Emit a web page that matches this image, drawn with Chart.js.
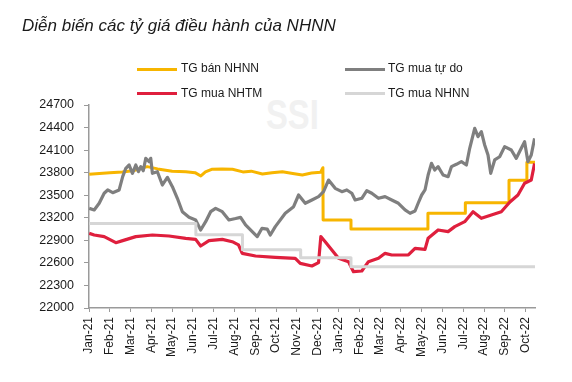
<!DOCTYPE html>
<html>
<head>
<meta charset="utf-8">
<script src="https://cdn.jsdelivr.net/npm/chart.js@4.4.0/dist/chart.umd.min.js"></script>
<style>
  html, body { margin: 0; padding: 0; background: #ffffff; }
  #wrap { position: relative; width: 572px; height: 382px; overflow: hidden; background: #fff; }
  #c { position: absolute; left: 0; top: 0; z-index: 2; }
  .title { position: absolute; left: 22px; top: 16px; font-family: "Liberation Sans Narrow", "Liberation Sans", Arial, sans-serif; font-style: italic; font-size: 17px; line-height: 20px; color: #1a1a1a; white-space: nowrap; z-index: 3; }
  .wm { position: absolute; left: 266px; top: 92px; font-family: "Liberation Sans", Arial, sans-serif; font-weight: bold; font-size: 42px; line-height: 46px; color: #f1f1f1; transform: scaleX(0.78); transform-origin: left top; z-index: 1; }
  .lg { position: absolute; font-family: "Liberation Sans", Arial, sans-serif; font-size: 12px; line-height: 14px; color: #1a1a1a; white-space: nowrap; z-index: 3; }
  .ln { position: absolute; height: 3px; width: 40px; z-index: 3; }
</style>
</head>
<body>
<div id="wrap">
  <div class="title">Diễn biến các tỷ giá điều hành của NHNN</div>
  <div class="wm">SSI</div>
  <div id="legend"></div>
  <canvas id="c" width="572" height="382"></canvas>
</div>
<script>
// ---- Data (x = months since Jan-2021) ----
const monthLabels = ["Jan-21","Feb-21","Mar-21","Apr-21","May-21","Jun-21","Jul-21","Aug-21","Sep-21","Oct-21","Nov-21","Dec-21",
                     "Jan-22","Feb-22","Mar-22","Apr-22","May-22","Jun-22","Jul-22","Aug-22","Sep-22","Oct-22"];

const seriesNames = ["TG bán NHNN", "TG mua tự do", "TG mua NHTM", "TG mua NHNN"];

// TG bán NHNN (yellow)
const sellX = [0.01,0.5,1.0,1.6,2.2,2.8,3.3,4.0,4.66,5.1,5.38,5.6,5.9,6.4,6.9,7.4,7.8,8.34,8.8,9.3,9.8,10.26,10.7,11.14,11.25,11.26,12.6,12.6,16.3,16.3,18.1,18.1,20.2,20.2,21.06,21.06,21.45];
const sellY = [23778,23790,23800,23810,23830,23880,23850,23820,23813,23800,23756,23810,23845,23850,23845,23810,23820,23782,23800,23813,23790,23769,23795,23805,23866,23170,23170,23050,23050,23260,23260,23400,23400,23700,23700,23940,23940];

// TG mua tự do (dark gray)
const freeX = [0.01,0.25,0.49,0.73,0.90,1.14,1.45,1.62,1.77,1.93,2.09,2.25,2.38,2.49,2.61,2.73,2.89,2.97,3.05,3.29,3.53,3.77,4.01,4.25,4.49,4.81,5.13,5.37,5.61,5.85,6.09,6.41,6.73,7.05,7.29,7.53,7.85,8.09,8.32,8.57,8.72,8.96,9.44,9.84,10.08,10.40,10.72,11.04,11.28,11.52,11.84,12.16,12.40,12.64,12.80,13.12,13.36,13.60,13.92,14.24,14.56,14.88,15.20,15.44,15.68,15.83,16.00,16.16,16.31,16.47,16.63,16.79,17.03,17.27,17.43,17.67,17.91,18.15,18.31,18.55,18.71,18.87,19.03,19.19,19.32,19.51,19.75,19.99,20.31,20.55,20.79,20.95,21.11,21.27,21.43];
const freeY = [23326,23304,23393,23526,23570,23534,23570,23747,23858,23902,23791,23902,23813,23880,23826,23991,23946,23991,23791,23813,23636,23738,23614,23459,23281,23206,23171,23038,23148,23281,23326,23281,23171,23190,23206,23104,23015,22949,23060,23050,22971,23082,23260,23348,23503,23393,23437,23481,23547,23702,23592,23547,23570,23526,23437,23459,23560,23526,23459,23481,23437,23393,23304,23260,23290,23393,23503,23570,23769,23924,23836,23880,23769,23747,23880,23911,23946,23902,24124,24390,24279,24345,24168,24035,23791,23969,24012,24146,24101,23991,24124,24212,23946,24035,24257];

// TG mua NHTM (red)
const bankX = [0.01,0.25,0.73,1.29,1.62,2.25,3.05,3.85,4.65,5.13,5.37,5.77,6.41,6.89,7.19,7.37,8.01,8.96,9.92,10.16,10.72,11.04,11.15,11.36,11.68,12.00,12.48,12.72,13.12,13.44,13.92,14.24,14.56,14.88,15.36,15.68,16.16,16.31,16.79,17.27,17.59,18.07,18.47,18.87,19.35,19.83,20.23,20.63,20.95,21.27,21.43];
const bankY = [22993,22971,22949,22869,22896,22949,22971,22958,22927,22913,22825,22896,22913,22882,22840,22727,22692,22674,22661,22594,22559,22603,22949,22882,22772,22661,22616,22483,22492,22616,22661,22727,22705,22705,22705,22794,22780,22927,23038,23016,23082,23148,23281,23193,23237,23281,23406,23503,23659,23702,23924];

// TG mua NHNN (light gray)
const sbvBuyX = [0.01,5.14,5.14,7.38,7.38,10.18,10.18,12.6,12.6,21.45];
const sbvBuyY = [23125,23125,22975,22975,22775,22775,22670,22670,22550,22550];

const yTicks = [22000,22300,22600,22900,23200,23500,23800,24100,24400,24700];

const colors = ["#F7B500", "#7F7F7F", "#DF1F3D", "#D6D6D6"];

function pts(xs, ys) { return xs.map((x, i) => ({ x: x, y: ys[i] })); }

// ---- Legend (HTML) ----
const legendPos = [
  { lx: 137, tx: 181, ly: 67.5, ty: 61 },
  { lx: 345, tx: 388, ly: 67.5, ty: 61 },
  { lx: 137, tx: 181, ly: 91.5, ty: 86 },
  { lx: 345, tx: 388, ly: 91.5, ty: 86 }
];
const lg = document.getElementById('legend');
seriesNames.forEach((n, i) => {
  const p = legendPos[i];
  const l = document.createElement('div');
  l.className = 'ln';
  l.style.left = p.lx + 'px'; l.style.top = p.ly + 'px'; l.style.background = colors[i];
  lg.appendChild(l);
  const t = document.createElement('div');
  t.className = 'lg';
  t.style.left = p.tx + 'px'; t.style.top = p.ty + 'px';
  t.textContent = n;
  lg.appendChild(t);
});

// ---- Chart ----
const ctx = document.getElementById('c').getContext('2d');
new Chart(ctx, {
  type: 'line',
  data: {
    datasets: [
      { label: seriesNames[0], data: pts(sellX, sellY), borderColor: colors[0], borderWidth: 3, order: 3 },
      { label: seriesNames[1], data: pts(freeX, freeY), borderColor: colors[1], borderWidth: 3.2, order: 2 },
      { label: seriesNames[2], data: pts(bankX, bankY), borderColor: colors[2], borderWidth: 3.2, order: 1 },
      { label: seriesNames[3], data: pts(sbvBuyX, sbvBuyY), borderColor: colors[3], borderWidth: 3, order: 0 }
    ]
  },
  options: {
    responsive: false,
    animation: false,
    elements: { point: { radius: 0 }, line: { tension: 0, borderJoinStyle: 'round', borderCapStyle: 'butt' } },
    layout: { padding: { top: 105, right: 37, left: 0, bottom: 0 } },
    plugins: { legend: { display: false }, tooltip: { enabled: false } },
    scales: {
      x: {
        type: 'linear',
        min: 0, max: 21.45,
        afterFit: (s) => { s.height = 74; },
        afterBuildTicks: (s) => { s.ticks = monthLabels.map((_, i) => ({ value: i })); },
        grid: { drawOnChartArea: false, drawTicks: true, tickLength: 4, color: '#9a9a9a', lineWidth: 1 },
        border: { display: true, color: '#9a9a9a', width: 1.5 },
        ticks: {
          autoSkip: false, minRotation: 90, maxRotation: 90, padding: 5,
          color: '#1a1a1a',
          font: { family: '"Liberation Sans Narrow", "Liberation Sans", Arial', size: 12 },
          callback: (v) => monthLabels[Math.round(v)]
        }
      },
      y: {
        min: 22000, max: 24700,
        afterFit: (s) => { s.width = 89; },
        afterBuildTicks: (s) => { s.ticks = yTicks.map(v => ({ value: v })); },
        grid: { drawOnChartArea: false, drawTicks: true, tickLength: 5, color: '#9a9a9a', lineWidth: 1 },
        border: { display: true, color: '#9a9a9a', width: 1.5 },
        ticks: {
          padding: 10, color: '#1a1a1a',
          font: { family: '"Liberation Sans", Arial', size: 12.5 },
          callback: (v) => String(v)
        }
      }
    }
  }
});
</script>
</body>
</html>
